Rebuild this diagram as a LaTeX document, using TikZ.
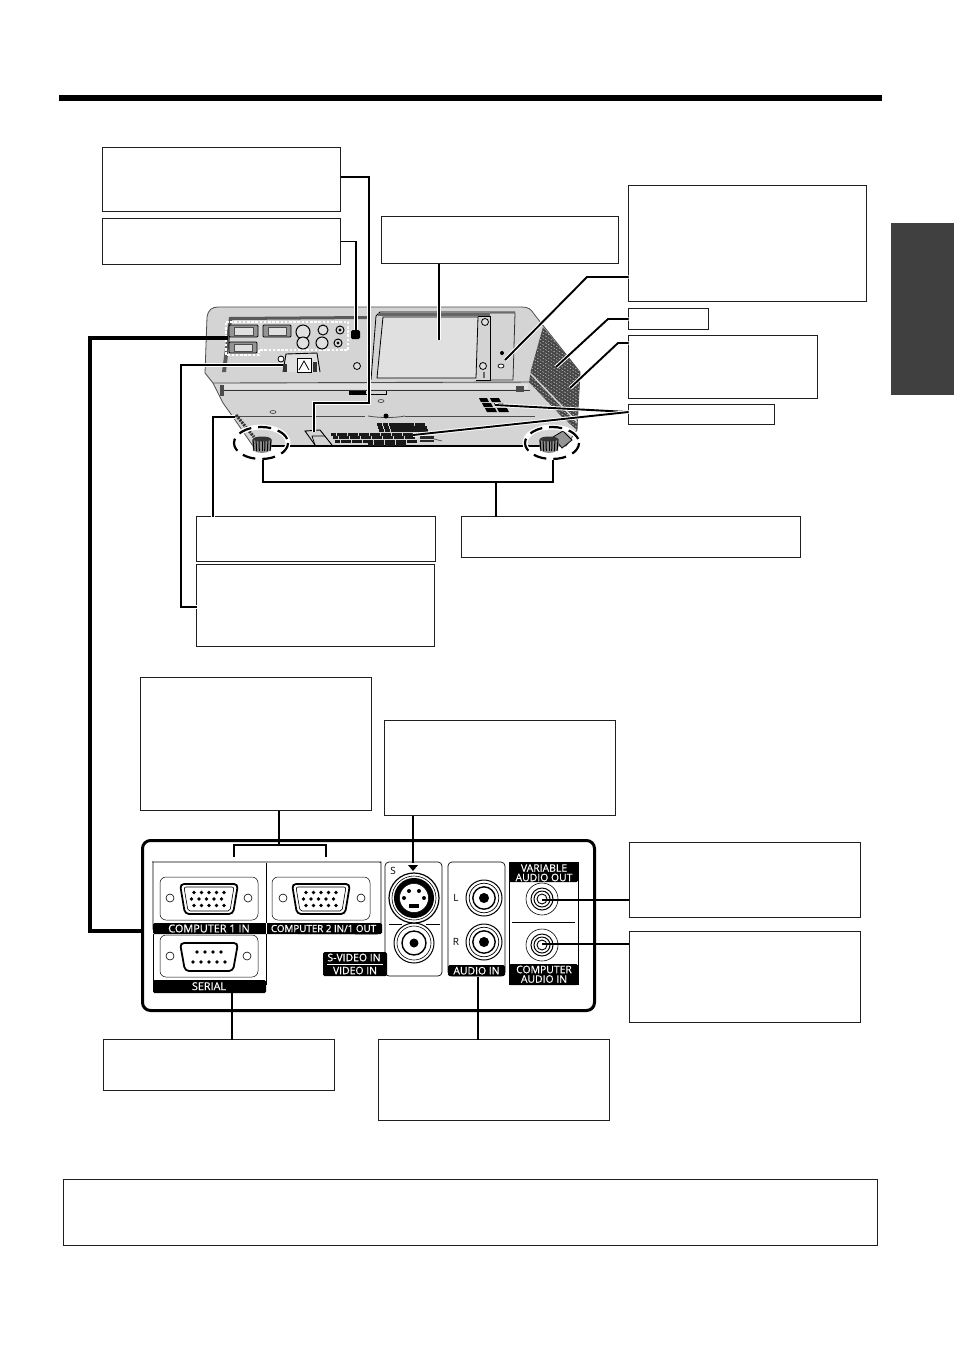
\documentclass[tikz,border=0pt]{standalone}
\usepackage{fontspec}
\setmainfont{Open Sans}
\newfontfamily\labfont[FakeBold=0.5]{Open Sans}
\usetikzlibrary{calc}
\definecolor{bodyg}{gray}{0.83}
\definecolor{bodyl}{gray}{0.88}
\definecolor{bodyd}{gray}{0.58}
\definecolor{tabg}{gray}{0.25}
\definecolor{ink}{gray}{0.12}
\tikzset{
 tbox/.style={draw=ink,line width=0.9pt,fill=white,inner sep=0pt,outer sep=0pt},
 conn/.style={draw=black,line width=1.9pt,line join=miter,preaction={draw=white,line width=3.8pt}},
 plainconn/.style={draw=black,line width=1.9pt},
 thick conn/.style={draw=black,line width=4pt},
 ring/.style={draw=black,line width=2.2pt,dash pattern=on 13pt off 7pt,preaction={draw=white,line width=5pt}},
 lab/.style={text=white,font=\labfont\fontsize{10.4}{10.4}\selectfont,inner sep=0pt},
 blab/.style={text=black,font=\fontsize{10}{10}\selectfont,inner sep=0pt},
 pnl/.style={draw=black,line width=0.7pt,fill=white,rounded corners=4pt},
 frm/.style={draw=black,line width=0.5pt,fill=white,rounded corners=6pt},
}
\newcommand{\vgashape}[2]{% centre x,y
 \begin{scope}[shift={(#1,#2)}]
 \draw[line width=1.8pt,fill=white,rounded corners=4pt] (-29,-15) -- (29,-15) -- (24,15) -- (-24,15) -- cycle;
 \draw[line width=0.6pt,rounded corners=2pt] (-25,-12) -- (25,-12) -- (21,12) -- (-21,12) -- cycle;
 \foreach \i in {-2,...,2}{
  \fill (\i*7.5,-6.5) circle (1.8);
  \fill (\i*7.5-2.5,0) circle (1.8);
  \fill (\i*7.5,6.5) circle (1.8);
 }
 \end{scope}}
\newcommand{\serialshape}[2]{%
 \begin{scope}[shift={(#1,#2)}]
 \draw[line width=1.8pt,fill=white,rounded corners=4pt] (-29,-14) -- (29,-14) -- (24,14) -- (-24,14) -- cycle;
 \foreach \i in {-1.5,-0.5,0.5,1.5}{\fill (\i*8,-5) circle (1.8);}
 \foreach \i in {-2,...,2}{\fill (\i*8,5) circle (1.8);}
 \end{scope}}
\newcommand{\rca}[3]{%
 \begin{scope}[shift={(#1,#2)}]
 \draw[line width=1pt,fill=white] (0,0) circle (#3);
 \draw[line width=0.7pt] (0,0) circle (#3*0.82);
 \draw[line width=1.4pt] (0,0) circle (#3*0.62);
 \fill (0,0) circle (#3*0.28);
 \end{scope}}
\begin{document}
\begin{tikzpicture}[x=1pt,y=-1pt]
\useasboundingbox (0,0) rectangle (954,1350);
\fill[white] (0,0) rectangle (954,1350);
% header and side tab
\coordinate (hdrL) at (59,98);
\coordinate (hdrR) at (882,98);
\draw[black,line width=6pt] (hdrL) -- (hdrR);
\fill[tabg] (891,223) rectangle (954,395);

% ---------- projector ----------
\fill[bodyg,draw=black!70,line width=0.8pt] (205,373) -- (207,317) .. controls (208,310) and (212,307) .. (218,307) -- (522,307) .. controls (528,307) and (531,309) .. (534,314) -- (580,372) -- (577,430) -- (566,446) -- (253,446) -- (233,417) -- (223,403) -- (213,383) -- cycle;
\draw[black,line width=1.3pt] (253,446) -- (540,446);
\draw[black!70,line width=0.9pt] (213,383) -- (222,383) -- (534,382);
\draw[black!80,line width=0.7pt] (222,390) -- (530,390);
\fill[bodyl] (222,384) rectangle (528,389);
% rear inset
\fill[black!65] (222,372) -- (229,317) -- (368,316) -- (368,319) -- (232,320) -- (226,372) -- cycle;
% ports
\foreach \a/\b/\c/\d in {229/325/258/337,263/325/291/337,229/342/257/353}{
 \draw[black,line width=0.9pt,fill=bodyd,rounded corners=1pt] (\a,\b) rectangle (\c,\d);
 \draw[black!70,line width=0.6pt,fill=bodyl] (\a+5,\b+2) rectangle (\c-5,\d-2);
}
\draw[white,line width=1.4pt,dash pattern=on 2.6pt off 1.6pt] (226,322) -- (348,322) -- (348,350) -- (259,350) -- (259,355) -- (226,355) -- cycle;
\foreach \p/\q/\r in {303/332/7,303/343/6,323/330/5,322/343/6,340/330/4,338/343/4}{
 \draw[black,line width=1pt,fill=bodyl] (\p,\q) circle (\r);
}
\fill[black] (340,330) circle (1.7) (338,343) circle (1.7);
\fill[black,rounded corners=1.5pt] (351,330) rectangle (360,339);
\draw[black,line width=0.8pt,fill=bodyl] (357,366) circle (3.5);
% power inlet
\draw[black,line width=0.9pt,fill=bodyl] (283,372) -- (286,354) -- (317,353) -- (320,372);
\draw[black,line width=0.8pt,fill=white] (297,358) rectangle (311,372);
\draw[black,line width=0.8pt] (299,370) -- (304,361) -- (309,370);
\draw[black,line width=0.8pt,fill=white] (281,359) circle (3);
\fill[black!80] (283,364) rectangle (287,372);
\fill[black!80] (313,362) rectangle (317,372);
% lamp cover
\draw[black,line width=0.8pt] (371,380) -- (376,316) -- (380,312) -- (515,312);
\fill[black!60] (378,313) rectangle (490,316);
\draw[black,line width=0.8pt,fill=bodyl] (383,317) -- (478,317) -- (476,378) -- (377,378) -- cycle;
\draw[black,line width=0.7pt] (478,316) -- (490,316) -- (490,380) -- (476,380);
\draw[black!80,line width=0.8pt] (490,313) -- (515,313) -- (513,380) -- (490,380);
\draw[black,line width=0.8pt,fill=bodyl] (485,322) circle (3.5) (483,366) circle (3.5);
\fill[black!60] (483,372) rectangle (485,378);
\fill[black] (502,353) circle (2);
\draw[black,line width=0.7pt,fill=white] (501,366) ellipse (3 and 2);
% right grille
\begin{scope}
\clip (543,327) -- (580,372) -- (577,430) -- (562,417) -- (529,382) -- (531,370) -- cycle;
\fill[black!72] (520,320) rectangle (590,440);
\foreach \k in {0,...,34}{
 \draw[white!75!black,line width=0.55pt,dash pattern=on 1.6pt off 1.6pt] (510,320+\k*3.4-30) -- (590,320+\k*3.4+50-30);
}
\draw[bodyg,line width=1.4pt] (529,372) -- (580,425);
\end{scope}
% handles and small marks
\fill[black] (349,391) rectangle (366,394);
\draw[black,line width=0.7pt] (349,394) -- (386,394) -- (386,391);
\fill[black!70] (220,385) rectangle (224,396);
\fill[black!70] (516,386) rectangle (524,392);
\draw[black!70,line width=0.7pt] (381,401) ellipse (3 and 1.5);
\draw[black!70,line width=0.7pt] (273,412) ellipse (3 and 1.5);
% bottom face details
\draw[black!70,line width=0.7pt] (235,416) -- (365,416);
\draw[black!70,line width=0.8pt] (368,416) .. controls (380,418) and (395,418) .. (405,416);
\draw[black!70,line width=0.7pt] (405,416) -- (535,416);
\fill[black] (386,416) circle (2.5);
% vents
\foreach \xx/\yy/\ww in {479/398/8,490/398/9,482/403/9,494/403/9,485/408/10,497/408/10}{
 \fill[black] (\xx,\yy) -- (\xx+\ww,\yy) -- (\xx+\ww+2,\yy+4.2) -- (\xx+2,\yy+4.2) -- cycle;
}
\foreach \r in {0,1,2}{
 \foreach \c in {0,...,5}{
  \fill[black!90] (377+\c*5.8+\r*1,423+\r*3.2) rectangle ++(5.4,3);
 }
 \foreach \c in {0,1,2}{
  \fill[black!90] (409+\c*5.5+\r*1.4,423+\r*3.2) rectangle ++(5.2,3);
 }
}
\foreach \c in {0,...,14}{
 \fill[black!90] (331+\c*5.5,432.5) rectangle ++(5.2,3.2);
 \fill[black!90] (333+\c*5.5,436) rectangle ++(5.2,3.2);
 \fill[black!90] (335+\c*5.5,439.5) rectangle ++(5.2,3.2);
}
\foreach \c in {0,...,6}{
 \fill[black!90] (368+\c*5.5,443) rectangle ++(5.2,2.5);
}
\fill[black!85] (420,436) rectangle ++(14,6);
\fill[bodyg] (420,438.8) rectangle ++(14,0.7);
\draw[black!70,line width=0.7pt] (434,439) -- (442,441);
% latch
\draw[black,line width=0.9pt] (315,445) -- (305,431) -- (320,430) -- (332,445);
\draw[black,line width=0.7pt] (315,445) -- (312,436) -- (325,436);
% left side strip and right bracket
\draw[black!80,line width=3pt,dash pattern=on 2pt off 1pt] (236,415) -- (254,437);
\draw[black,line width=0.8pt,fill=bodyd] (553,437) -- (563,431) -- (572,440) -- (562,448) -- cycle;
\foreach \fx/\fy in {262/445,549/445}{
 \begin{scope}[shift={(\fx,\fy)}]
 \fill[black!45] (-10,-5) -- (10,-5) -- (9,5) .. controls (5,9) and (-5,9) .. (-9,5) -- cycle;
 \foreach \t in {-9,-6,-3,0,3,6,9}{\draw[black,line width=1pt] (\t,-6) -- (\t*0.9,6);}
 \fill[black!80] (0,-6) ellipse (9 and 2.5);
 \end{scope}
}
\draw[ring] (261,443) ellipse (27 and 16);
\draw[ring] (552,443) ellipse (27 and 16);

% ---------- connector panel ----------
\node[draw=black,line width=3pt,rounded corners=8pt,minimum width=452pt,minimum height=170pt,inner sep=0pt,fill=white] (panel) at (368.5,925.5) {};
\draw[pnl] (153,933) -- (153,866) .. controls (153,863) and (154,862) .. (157,862) -- (376,862) .. controls (379,862) and (381,863) .. (381,866) -- (381,934) -- cycle;
\fill[black,rounded corners=1.5pt] (153,923) rectangle (382,934);
\draw[black,line width=0.7pt] (266,863) -- (266,932);
\draw[white,line width=0.8pt] (266,923) -- (266,934);
\draw[frm] (160,877) rectangle (258,920);
\draw[frm] (272,877) rectangle (370,920);
\draw[black,line width=0.6pt] (170,898) circle (4) (248,898) circle (4) (283,898) circle (4) (361,898) circle (4);
\vgashape{209}{899}
\vgashape{321}{899}
\node[lab,font=\labfont\fontsize{10.9}{10.9}\selectfont] (l1) at (209,928.5) {COMPUTER 1 IN};
\node[lab,font=\labfont\fontsize{9.8}{9.8}\selectfont] (l2) at (323.5,928.5) {COMPUTER 2 IN/1 OUT};
% serial
\draw[black,line width=0.7pt] (153,934) -- (153,985);
\draw[black,line width=0.7pt] (266,934) -- (266,985);
\draw[frm] (160,935) rectangle (258,977);
\draw[black,line width=0.6pt] (170,956) circle (4) (247,956) circle (4);
\serialshape{209}{957}
\fill[black,rounded corners=1.5pt] (153,980) rectangle (266,993);
\node[lab,font=\labfont\fontsize{10.8}{10.8}\selectfont] (l3) at (209,986.2) {SERIAL};
% s-video
\draw[pnl] (385,976) -- (385,862) -- (442,862) -- (442,976) -- cycle;
\fill[black,rounded corners=1.5pt] (323,952) rectangle (387,976);
\draw[white,line width=0.5pt] (327,964) -- (383,964);
\node[lab] (l4) at (354,957.5) {S-VIDEO IN};
\node[lab] (l5) at (355,970.5) {VIDEO IN};
\fill[black] (408,865) -- (418,865) -- (413,871) -- cycle;
\node[blab] (ls) at (393,871) {S};
\draw[black,line width=0.6pt] (389,924.5) -- (402,924.5) (426,924.5) -- (440,924.5);
\draw[line width=1pt,fill=white] (414,943) circle (20);
\draw[line width=0.6pt] (414,943) circle (17);
\draw[line width=1.4pt] (414,943) circle (12);
\fill (414,943) circle (4.5);
\draw[line width=1.2pt,fill=white] (414,898) circle (25);
\draw[line width=0.6pt] (414,898) circle (22);
\draw[line width=2pt,fill=black] (414,898) circle (19);
\draw[fill=white,line width=0.5pt] (414,898) circle (14.5);
\fill (404,898) circle (2) (424,898) circle (2) (409,891) circle (2) (419,891) circle (2);
\fill (409,904) rectangle (419,908);
% audio in
\draw[pnl] (448,976) -- (448,862) -- (505,862) -- (505,976) -- cycle;
\fill[black,rounded corners=1.5pt] (448,965) rectangle (505,976);
\node[lab] (l6) at (476.5,970.7) {AUDIO IN};
\node[blab] (ll) at (456,898) {L};
\node[blab] (lr) at (456,942) {R};
\rca{484}{898}{18}
\rca{484}{942}{18}
% audio out
\draw[draw=black,line width=0.7pt,fill=white] (509,862) rectangle (578,984);
\fill[black,rounded corners=1.5pt] (509,862) rectangle (578,882);
\fill[black,rounded corners=1.5pt] (509,964) rectangle (578,985);
\draw[black,line width=0.6pt] (512,922) -- (575,922);
\node[lab] (l7) at (544,868) {VARIABLE};
\node[lab] (l8) at (544,877.5) {AUDIO OUT};
\node[lab] (l9) at (544,969.5) {COMPUTER};
\node[lab] (l10) at (544,979) {AUDIO IN};
\foreach \jy in {899,945}{
 \draw[black,line width=0.6pt] (542,\jy) circle (16);
 \draw[black,line width=1pt,fill=white] (542,\jy) circle (11);
 \draw[black,line width=1pt] (542,\jy) circle (8);
 \draw[black,line width=0.9pt,fill=white] (542,\jy) circle (5);
}

% ---------- text boxes ----------
\node[tbox,minimum width=238pt,minimum height=64pt] (boxA) at (221.5,179.5) {};
\node[tbox,minimum width=238pt,minimum height=46pt] (boxB) at (221.5,241.5) {};
\node[tbox,minimum width=237pt,minimum height=47pt] (boxC) at (500,240) {};
\node[tbox,minimum width=238pt,minimum height=116pt] (boxD) at (747.5,243.5) {};
\node[tbox,minimum width=80pt,minimum height=21pt] (boxE) at (668.5,319) {};
\node[tbox,minimum width=189pt,minimum height=63pt] (boxF) at (723,367) {};
\node[tbox,minimum width=146pt,minimum height=20pt] (boxG) at (701.5,414.5) {};
\node[tbox,minimum width=339pt,minimum height=41pt] (boxH) at (631,537) {};
\node[tbox,minimum width=239pt,minimum height=45pt] (boxI) at (316,539) {};
\node[tbox,minimum width=238pt,minimum height=82pt] (boxJ) at (315.5,605.5) {};
\node[tbox,minimum width=231pt,minimum height=133pt] (boxK) at (256,744) {};
\node[tbox,minimum width=231pt,minimum height=95pt] (boxL) at (500,768) {};
\node[tbox,minimum width=231pt,minimum height=75pt] (boxM) at (745,880) {};
\node[tbox,minimum width=231pt,minimum height=91pt] (boxN) at (745,977) {};
\node[tbox,minimum width=231pt,minimum height=51pt] (boxO) at (219,1065) {};
\node[tbox,minimum width=231pt,minimum height=81pt] (boxP) at (494,1080) {};
\node[tbox,minimum width=814pt,minimum height=66pt] (boxQ) at (470.5,1212.5) {};

% ---------- connector ends ----------
\coordinate (a1) at (369,177);
\coordinate (a2) at (369,403);
\coordinate (a3) at (314,403);
\coordinate (a4) at (314,432);
\coordinate (b1) at (356,241.5);
\coordinate (b2) at (356,330);
\coordinate (c1) at (439,340);
\coordinate (d1) at (587,277);
\coordinate (d2) at (505,360);
\coordinate (e1) at (608,319);
\coordinate (e2) at (556,367);
\coordinate (f1) at (618,343);
\coordinate (f2) at (570,388);
\coordinate (g0) at (628,412);
\coordinate (g1) at (495,405);
\coordinate (g2) at (413,435);
\coordinate (h1) at (263,460);
\coordinate (h2) at (263,482);
\coordinate (h3) at (553,482);
\coordinate (h4) at (553,460);
\coordinate (h5) at (496,482);
\coordinate (i1) at (213,417);
\coordinate (i2) at (235,417);
\coordinate (j1) at (181,607);
\coordinate (j2) at (181,365);
\coordinate (j3) at (283,365);
\coordinate (t1) at (228,338);
\coordinate (t2) at (90,338);
\coordinate (t3) at (90,931);
\coordinate (k1) at (279,845);
\coordinate (k2) at (234,857);
\coordinate (k3) at (234,845);
\coordinate (k4) at (326,845);
\coordinate (k5) at (326,857);
\coordinate (l0) at (413,863);
\coordinate (m1) at (629,900);
\coordinate (m2) at (542,900);
\coordinate (n1) at (629,944);
\coordinate (n2) at (542,944);
\coordinate (o1) at (232,992);
\coordinate (p1) at (478,977);

% ---------- connectors ----------
\draw[conn] (boxA.east |- a1) -- (a1) -- (a2) -- (a3) -- (a4);
\draw[conn] (boxB.east) -- (b1) -- (b2);
\draw[conn] (c1 |- boxC.south) -- (c1);
\draw[conn] (boxD.west |- d1) -- (d1) -- (d2);
\draw[conn] (boxE.west) -- (e1) -- (e2);
\draw[conn] (boxF.west |- f1) -- (f1) -- (f2);
\draw[conn] (boxG.west |- g0) -- (g1);
\draw[conn] (boxG.west |- g0) -- (g2);
\draw[plainconn] (h1) -- (h2) -- (h3) -- (h4);
\draw[plainconn] (h5) -- (h5 |- boxH.north);
\draw[conn] (i1 |- boxI.north) -- (i1) -- (i2);
\draw[conn] (boxJ.west |- j1) -- (j1) -- (j2) -- (j3);
\draw[thick conn] (t1) -- (t2) -- (t3) -- (panel.west |- t3);
\draw[plainconn] (k1 |- boxK.south) -- (k1);
\draw[plainconn] (k2) -- (k3) -- (k4) -- (k5);
\draw[plainconn] (l0 |- boxL.south) -- (l0);
\draw[plainconn] (m1) -- (m2);
\draw[plainconn] (n1) -- (n2);
\draw[plainconn] (o1 |- boxO.north) -- (o1);
\draw[plainconn] (p1 |- boxP.north) -- (p1);
\end{tikzpicture}
\end{document}
